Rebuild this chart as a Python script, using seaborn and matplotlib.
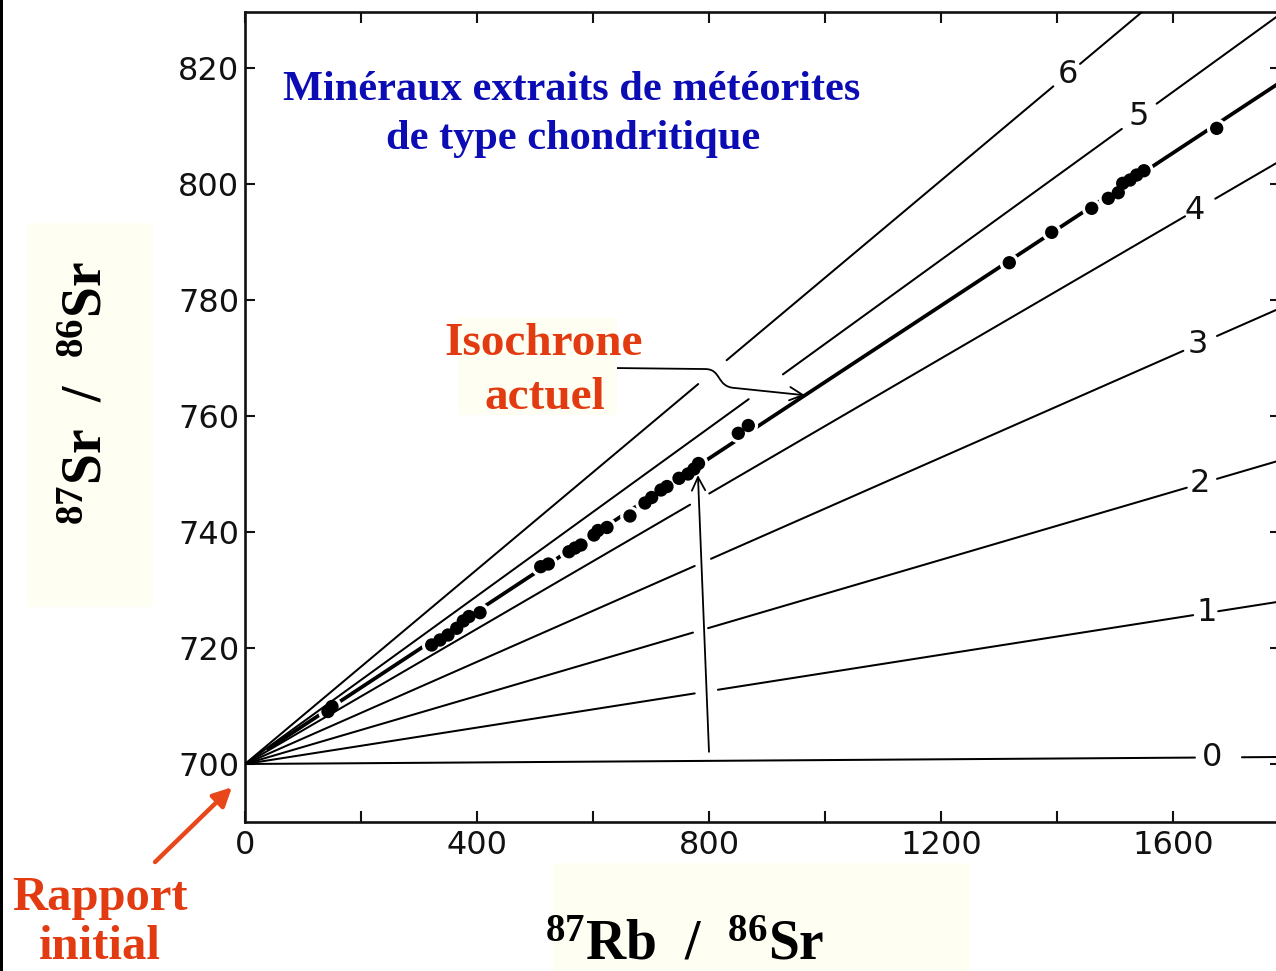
import numpy as np
import pandas as pd
import matplotlib
matplotlib.use("Agg")
import matplotlib.pyplot as plt
from matplotlib.patches import Rectangle, FancyArrowPatch
from matplotlib.path import Path
import seaborn as sns

# ---- data -------------------------------------------------------------
# reference isochrons, age in Ga, with 87Sr/86Sr (x1000) reached at 87Rb/86Sr = 1700
iso_ages = [0, 1, 2, 3, 4, 5, 6]
iso_sr_at_ref = [701.15, 726.7, 749.9, 774.9, 799.1, 823.2, 842.6]
iso_label_x = [1666, 1658, 1646, 1641, 1637, 1540, 1418]
ref_rb = 1700
initial_ratio = 700.0

# present-day isochron through the chondrite minerals
actual_sr_at_ref = 812.0

# mineral analyses (87Rb/86Sr x1000, 87Sr/86Sr x1000)
rb_sr = [143.0, 149.9, 321.7, 336.0, 349.8, 364.8, 376.2, 386.0, 405.0,
         509.6, 522.7, 558.3, 568.7, 579.0, 601.4, 608.3, 623.8, 663.4,
         689.3, 700.8, 716.9, 727.2, 747.9, 763.4, 773.7, 781.5, 850.1,
         867.3, 1317.1, 1390.2, 1459.1, 1487.7, 1504.9, 1512.5, 1525.1,
         1536.6, 1549.2, 1674.5]
sr_sr = [709.05, 709.91, 720.52, 721.38, 722.24, 723.40, 724.66, 725.43,
         726.09, 734.02, 734.48, 736.60, 737.24, 737.76, 739.48, 740.26,
         740.78, 742.76, 745.00, 745.95, 747.24, 747.84, 749.26, 750.00,
         750.86, 751.81, 757.02, 758.36, 786.43, 791.67, 795.81, 797.53,
         798.50, 800.12, 800.69, 801.55, 802.29, 809.60]

xticks = [0, 200, 400, 600, 800, 1000, 1200, 1400, 1600]
xtick_labels = ["0", "", "400", "", "800", "", "1200", "", "1600"]
yticks = [700, 720, 740, 760, 780, 800, 820]
ytick_labels = ["700", "720", "740", "760", "780", "800", "820"]

# gaps left in each reference line (for its label and the arrows)
line_breaks = [
    [(1637, 1718)],
    [(775, 815), (1634, 1677)],
    [(772, 798), (1623, 1675)],
    [(775, 803), (1617, 1675)],
    [(767, 800), (1620, 1672)],
    [(868, 927), (1511, 1571)],
    [(781, 830), (1393, 1439)],
]

# ---- style ------------------------------------------------------------
sns.set_theme(style="white")
plt.rcParams["font.family"] = ["DejaVu Sans"]
plt.rcParams["mathtext.fontset"] = "custom"
plt.rcParams["mathtext.rm"] = "Liberation Serif:bold"
plt.rcParams["mathtext.bf"] = "Liberation Serif:bold"
plt.rcParams["mathtext.it"] = "Liberation Serif:bold"

W, H = 1276, 971
fig = plt.figure(figsize=(W / 100, H / 100), dpi=100, facecolor="white")

x_left_px, x_right_px = 245, 1280
y_top_px, y_bot_px = 12, 822
ax = fig.add_axes([x_left_px / W, 1 - y_bot_px / H,
                   (x_right_px - x_left_px) / W, (y_bot_px - y_top_px) / H])
ax.set_facecolor("white")

XMAX = 1783.6
ax.set_xlim(0, XMAX)
ax.set_ylim(690.0, 829.66)

# ---- reference isochrons ---------------------------------------------
rows = []
seg = 0
for age, y_ref, brk in zip(iso_ages, iso_sr_at_ref, line_breaks):
    slope = (y_ref - initial_ratio) / ref_rb
    edges = [0] + [v for b in brk for v in b] + [1850]
    for a, b in zip(edges[0::2], edges[1::2]):
        for xv in (a, b):
            rows.append({"x": xv, "y": initial_ratio + slope * xv, "seg": seg})
        seg += 1
lines_df = pd.DataFrame(rows)
sns.lineplot(data=lines_df, x="x", y="y", units="seg", estimator=None,
             sort=False, color="black", lw=1.45, zorder=4, ax=ax, legend=False)

for age, y_ref, lx in zip(iso_ages, iso_sr_at_ref, iso_label_x):
    slope = (y_ref - initial_ratio) / ref_rb
    ax.text(lx, initial_ratio + slope * lx, str(age), ha="center",
            va="center", fontsize=23, color="#111111", zorder=6)

# ---- present-day isochron and minerals ---------------------------------
act_slope = (actual_sr_at_ref - initial_ratio) / ref_rb
act_df = pd.DataFrame({"x": [40, 1850],
                       "y": [initial_ratio + act_slope * 40,
                             initial_ratio + act_slope * 1850]})
sns.lineplot(data=act_df, x="x", y="y", color="black", lw=2.7, zorder=2.5,
             ax=ax, legend=False)

pts = pd.DataFrame({"rb": rb_sr, "sr": sr_sr})
sns.scatterplot(data=pts, x="rb", y="sr", s=200, color="white",
                edgecolor="none", linewidth=0, zorder=3, ax=ax, legend=False)
sns.scatterplot(data=pts, x="rb", y="sr", s=92, color="black",
                edgecolor="none", linewidth=0, zorder=5, ax=ax, legend=False)

# ---- axes decoration ---------------------------------------------------
ax.set_xlabel("")
ax.set_ylabel("")
ax.set_xticks(xticks)
ax.set_xticklabels(xtick_labels)
ax.set_yticks(yticks)
ax.set_yticklabels(ytick_labels)
for sp in ax.spines.values():
    sp.set_linewidth(1.9)
    sp.set_color("#111111")
    sp.set_visible(True)
ax.tick_params(axis="both", direction="in", length=8, width=1.5,
               colors="#111111", labelsize=23, top=True, right=True,
               bottom=True, left=True)
ax.tick_params(axis="x", pad=6)
ax.tick_params(axis="y", pad=4, length=7)
ax.grid(False)

# arrow onto the mineral line from below
tip_rb, tip_sr = rb_sr[25] - 1, sr_sr[25] - 2
ax.annotate("", xy=(tip_rb, tip_sr), xytext=(799.6, 702.1),
            arrowprops=dict(arrowstyle="->", lw=1.3, color="black",
                            shrinkA=0, shrinkB=0, mutation_scale=24),
            zorder=6)

# curved pointer from the "Isochrone actuel" label
x_end = 965
verts = [(632.4, 768.28), (792.7, 768.1), (822.0, 768.1), (811.6, 765.0),
         (844.4, 764.83), (x_end, initial_ratio + act_slope * x_end)]
codes = [Path.MOVETO, Path.LINETO, Path.CURVE4, Path.CURVE4, Path.CURVE4,
         Path.LINETO]
ax.add_patch(FancyArrowPatch(path=Path(verts, codes), arrowstyle="->",
                             mutation_scale=24, lw=1.3, color="black",
                             zorder=6))

# ---- pale boxes behind labels ------------------------------------------
cream = "#fefef2"
for (x0, y0, x1, y1) in [(27, 223, 153, 607), (553, 863, 970, 971),
                         (458, 318, 617, 415)]:
    fig.patches.append(Rectangle((x0 / W, 1 - y1 / H), (x1 - x0) / W,
                                 (y1 - y0) / H, transform=fig.transFigure,
                                 facecolor=cream, edgecolor="none", zorder=1))
fig.patches.append(Rectangle((0, 0), 3 / W, 1, transform=fig.transFigure,
                             facecolor="black", edgecolor="none", zorder=1))

serif = ["Liberation Serif", "DejaVu Serif"]
blue = "#0c0cb4"
red = "#e23b12"

fig.text(572 / W, 1 - 100 / H, "Minéraux extraits de météorites",
         ha="center", va="baseline", fontsize=30.5, fontweight="bold",
         family=serif, color=blue, zorder=3)
fig.text(573 / W, 1 - 149 / H, "de type chondritique",
         ha="center", va="baseline", fontsize=30.5, fontweight="bold",
         family=serif, color=blue, zorder=3)

fig.text(544 / W, 1 - 355 / H, "Isochrone", ha="center", va="baseline",
         fontsize=34, fontweight="bold", family=serif, color=red, zorder=3)
fig.text(545 / W, 1 - 409 / H, "actuel", ha="center", va="baseline",
         fontsize=34, fontweight="bold", family=serif, color=red, zorder=3)

fig.text(100 / W, 1 - 910 / H, "Rapport", ha="center", va="baseline",
         fontsize=35, fontweight="bold", family=serif, color=red, zorder=3)
fig.text(100 / W, 1 - 959 / H, "initial", ha="center", va="baseline",
         fontsize=35, fontweight="bold", family=serif, color=red, zorder=3)

ax.annotate("", xy=(-22.4, 696.0), xytext=(-155.0, 683.1),
            arrowprops=dict(arrowstyle="-|>", lw=3.2, color="#e8471b",
                            shrinkA=0, shrinkB=0, mutation_scale=28),
            annotation_clip=False)

fig.text(685 / W, 1 - 959 / H, r"$^{87}$Rb  /  $^{86}$Sr", ha="center",
         va="baseline", fontsize=40, fontweight="bold", family=serif,
         color="black", zorder=3)
fig.text(88 / W, 1 - 393 / H, r"$^{87}$Sr  /  $^{86}$Sr", ha="center",
         va="center", rotation=90, fontsize=40, fontweight="bold",
         family=serif, color="black", zorder=3)

fig.savefig("out.png", dpi=100, facecolor="white")
